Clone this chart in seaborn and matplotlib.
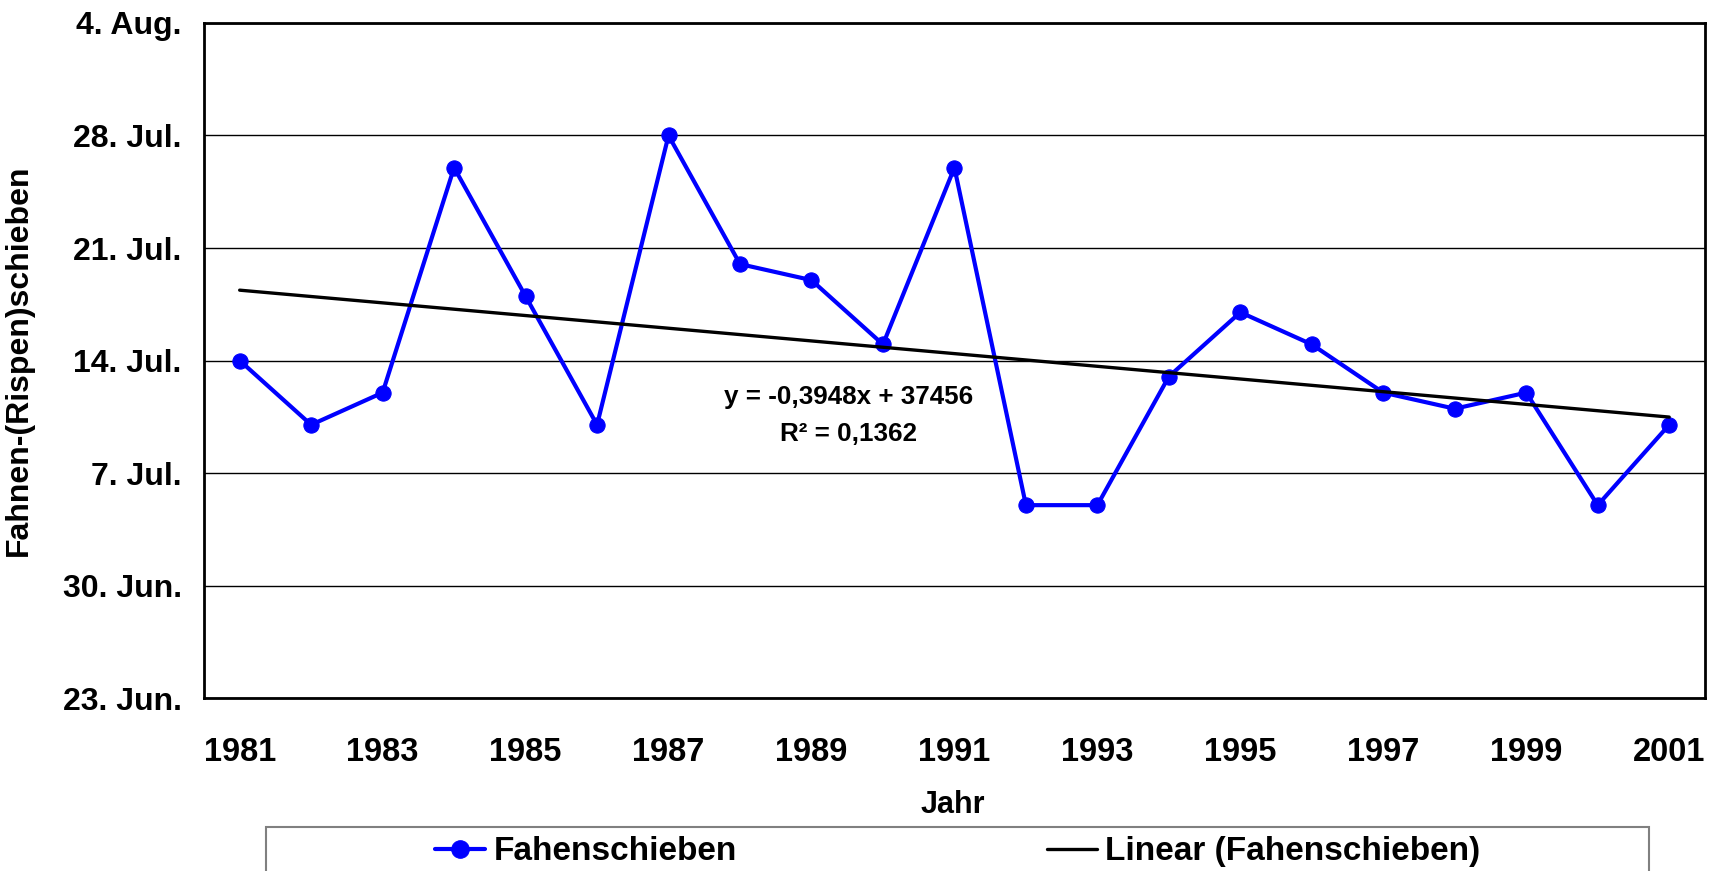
import numpy as np
import pandas as pd
import matplotlib
matplotlib.use("Agg")
import matplotlib.pyplot as plt
import seaborn as sns
from matplotlib.patches import Rectangle

# Fahnenschieben (tassel emergence) date per year
years = list(range(1981, 2002))
dates = ["1981-07-14", "1982-07-10", "1983-07-12", "1984-07-26", "1985-07-18",
         "1986-07-10", "1987-07-28", "1988-07-20", "1989-07-19", "1990-07-15",
         "1991-07-26", "1992-07-05", "1993-07-05", "1994-07-13", "1995-07-17",
         "1996-07-15", "1997-07-12", "1998-07-11", "1999-07-12", "2000-07-05",
         "2001-07-10"]
ytick_labels = ["23. Jun.", "30. Jun.", "7. Jul.", "14. Jul.", "21. Jul.", "28. Jul.", "4. Aug."]
eq_text = "y = -0,3948x + 37456"
r2_text = "R\u00b2 = 0,1362"

# days after 23 June
d = pd.to_datetime(dates)
days = (d.dayofyear - pd.to_datetime([f"{y}-06-23" for y in years]).dayofyear).values
df = pd.DataFrame({"pos": np.arange(len(years)), "days": days})

# linear trend like Excel
k, b = np.polyfit(df["pos"], df["days"], 1)
df["trend"] = k * df["pos"] + b

sns.set_style("white")
plt.rcParams["font.family"] = ["Liberation Sans", "DejaVu Sans"]
plt.rcParams["font.weight"] = "bold"
plt.rcParams["text.color"] = "black"
plt.rcParams["axes.labelcolor"] = "black"
plt.rcParams["xtick.color"] = "black"
plt.rcParams["ytick.color"] = "black"

fig = plt.figure(figsize=(17.18, 8.71), dpi=100)
ax = fig.add_axes([0.1187, 0.1986, 0.8737, 0.775])

for y in range(0, 43, 7):
    ax.axhline(y, color="black", lw=1.0, zorder=1)

sns.lineplot(data=df, x="pos", y="days", ax=ax, color="#0000FF", lw=3,
             marker="o", markersize=11, markeredgecolor="#0000FF",
             label="Fahenschieben", zorder=3)
sns.lineplot(data=df, x="pos", y="trend", ax=ax, color="black", lw=2.4,
             label="Linear (Fahenschieben)", zorder=4)

ax.set_xlim(-0.5, len(years) - 0.5)
ax.set_ylim(0, 42)
ax.set_yticks(range(0, 43, 7))
ax.set_yticklabels(ytick_labels, fontsize=23, fontweight="bold")

ax.set_xticks(np.arange(-0.5, len(years), 1))
ax.set_xticklabels([])
ax.set_xticks(np.arange(0, len(years), 2), minor=True)
ax.set_xticklabels([str(y) for y in years[::2]], minor=True, fontsize=23.5, fontweight="bold")
ax.tick_params(axis="x", which="major", direction="out", length=10, width=1.2, color="black")
ax.tick_params(axis="x", which="minor", length=0, pad=28)
ax.tick_params(axis="y", direction="out", length=10, width=1.5, color="black", pad=6)

for s in ax.spines.values():
    s.set_color("black")
    s.set_linewidth(2)

ax.set_xlabel("Jahr", fontsize=22, fontweight="bold")
ax.xaxis.set_label_coords(0.499, -0.136)
ax.set_ylabel("Fahnen-(Rispen)schieben", fontsize=23, fontweight="bold")
ax.yaxis.set_label_coords(-0.113, 0.5)

ax.text(8.52, 18.7, eq_text, ha="center", va="center", fontsize=18.7, fontweight="bold")
ax.text(8.52, 16.4, r2_text, ha="center", va="center", fontsize=18.7, fontweight="bold")

ax.get_legend().remove()
h, l = ax.get_legend_handles_labels()
fig.patches.append(Rectangle((266 / 1718, -0.1), (1649 - 266) / 1718, 0.1505,
                             transform=fig.transFigure, fill=False,
                             edgecolor="#808080", lw=1.5))
fig.legend(h, l, loc="center", bbox_to_anchor=(0.5574, 0.022), ncol=2, frameon=False,
           prop={"size": 24, "weight": "bold"}, handlelength=1.5, handletextpad=0.25,
           columnspacing=9.3, markerscale=1.15)

fig.savefig("out.png", dpi=100)
